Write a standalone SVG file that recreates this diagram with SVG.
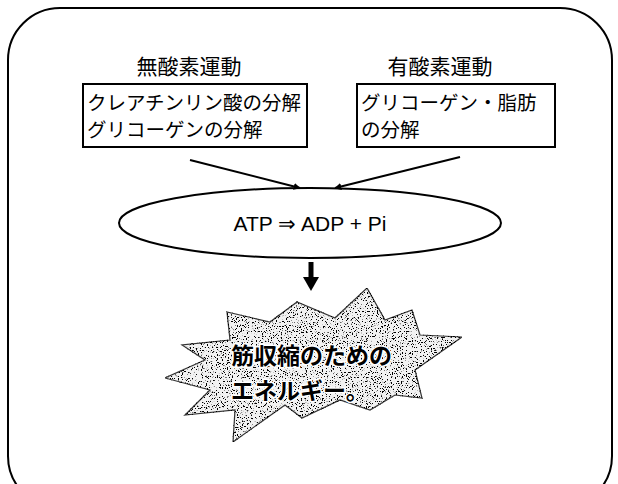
<svg xmlns="http://www.w3.org/2000/svg" width="618" height="484" viewBox="0 0 618 484">
<style>
.jp{font-family:"Noto Sans CJK JP","Liberation Sans",sans-serif;fill:#000}
.box{fill:#fff;stroke:#000;stroke-width:2}
.ln{stroke:#000;stroke-width:2;fill:none}
.hd{font-size:21px;text-anchor:middle}
.big{font-size:23px;font-weight:bold;stroke:#fff;stroke-width:3;paint-order:stroke}
</style>
<defs>
<marker id="ah" viewBox="0 0 10 10" refX="9" refY="5" markerWidth="7" markerHeight="7" orient="auto" markerUnits="userSpaceOnUse">
<path d="M0,0 L10,5 L0,10 z" fill="#000"/>
</marker>
<filter id="speck" x="0" y="0" width="1" height="1">
<feTurbulence type="fractalNoise" baseFrequency="0.8" numOctaves="2" seed="3" result="n"/>
<feColorMatrix in="n" type="matrix" values="0 0 0 0 0  0 0 0 0 0  0 0 0 0 0  0 0 0 -14 5.8" result="a"/>
<feComposite in="a" in2="SourceGraphic" operator="in" result="dots"/>
<feMerge><feMergeNode in="SourceGraphic"/><feMergeNode in="dots"/></feMerge>
</filter>
</defs>
<rect width="618" height="484" fill="#fff"/>
<rect x="8" y="8" width="604" height="500" rx="52" class="ln"/>

<g id="anaerobic">
<text x="189" y="74" class="jp hd">無酸素運動</text>
<rect x="83" y="84" width="224" height="63" class="box"/>
<text x="87" y="110" class="jp" font-size="19.5">クレアチンリン酸の分解</text>
<text x="87" y="137" class="jp" font-size="19.5">グリコーゲンの分解</text>
</g>

<g id="aerobic">
<text x="440" y="74" class="jp hd">有酸素運動</text>
<rect x="357" y="84" width="198" height="63" class="box"/>
<text x="361" y="110" class="jp" font-size="19.5">グリコーゲン・脂肪</text>
<text x="361" y="137" class="jp" font-size="19.5">の分解</text>
</g>

<g id="atp">
<ellipse cx="310" cy="223" rx="191" ry="35" class="box"/>
<text x="310" y="231" font-family="Liberation Sans,Arial,sans-serif" font-size="21" text-anchor="middle">ATP ⇒ ADP + Pi</text>
</g>

<g id="energy">
<polygon filter="url(#speck)" fill="#f2f2f2" stroke="#333" stroke-width="1.2" points="367,288 385,320 412,310 420,335 462,337 415,370 422,398 395,395 370,410 340,400 302,418 285,405 233,442 235,410 185,415 210,390 165,378 205,360 182,345 230,340 227,312 270,322 297,302 335,318"/>
<text x="231" y="364" class="jp big">筋収縮のための</text>
<text x="231" y="399" class="jp big">エネルギー。</text>
</g>

<g id="connectors">
<line x1="190" y1="160" x2="300" y2="188" class="ln" marker-end="url(#ah)"/>
<line x1="460" y1="157" x2="335" y2="188" class="ln" marker-end="url(#ah)"/>
<line x1="311" y1="262" x2="311" y2="278" stroke="#000" stroke-width="5"/>
<path d="M303,277 L319,277 L311,291 z" fill="#000"/>
</g>
</svg>
